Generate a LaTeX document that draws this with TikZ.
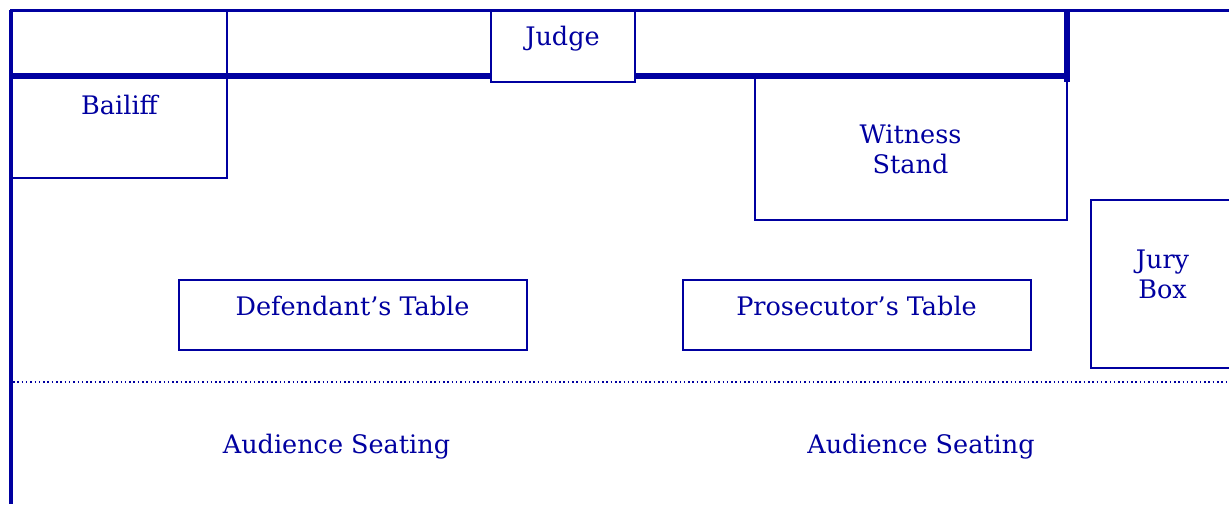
\documentclass[tikz,border=0pt]{standalone}
\usepackage{fontspec}
\setmainfont{DejaVu Serif}
\usepackage{xcolor}
\usetikzlibrary{positioning}
\definecolor{courtblue}{RGB}{0,0,160}

\begin{document}
\begin{tikzpicture}[
  x=0.5pt, y=-0.5pt,
  font=\fontsize{12.75}{15}\selectfont,
  wall/.style={
    draw=courtblue,
    line width=1.75pt
  },
  bench/.style={
    draw=courtblue,
    line width=3pt
  },
  furniture/.style={
    draw=courtblue,
    line width=1pt
  },
  bar/.style={
    draw=courtblue,
    line width=0.75pt,
    dash pattern=on 0.75pt off 1.4pt
  },
  lab/.style={
    text=courtblue,
    align=center,
    inner sep=0pt
  }
]
\useasboundingbox (0,0) rectangle (1229,504);

% Walls of the room
\draw[wall] (10,10.5) -- (1229,10.5);
\draw[wall, line width=2pt] (11,9.5) -- (11,504);

% Judge's bench
\draw[bench] (11,76) -- (1067,76);
\draw[bench, line width=2.75pt] (1067,9.5) -- (1067,82);
\draw[furniture, fill=white] (491,10.5) rectangle (635,82);

% Bailiff corner
\draw[furniture] (227,10) -- (227,178) -- (11,178);

% Witness stand
\draw[furniture] (755,79) -- (755,220) -- (1067,220) -- (1067,80);

% Tables
\draw[furniture] (179,280) rectangle (527,350);
\draw[furniture] (683,280) rectangle (1031,350);

% Jury box, open to the right
\draw[furniture] (1229,200) -- (1091,200) -- (1091,368) -- (1229,368);

% Bar between the well and the gallery
\draw[bar] (13,382) -- (1229,382);

% Labels
\node[lab, anchor=base] (judge)    at (562.5,45.5) {Judge};
\node[lab, anchor=base] (bailiff)  at (119.5,114)  {Bailiff};
\node[lab]              (witness)  at (910.5,149)  {Witness\\Stand};
\node[lab, anchor=base] (deftab)   at (352.5,315)  {Defendant’s Table};
\node[lab, anchor=base] (prostab)  at (856.5,315)  {Prosecutor’s Table};
\node[lab]              (jury)     at (1162.5,274) {Jury\\Box};
\node[lab, anchor=base] (audleft)  at (336.5,453)  {Audience Seating};
\node[lab, anchor=base] (audright) at (921,453)    {Audience Seating};

\end{tikzpicture}
\end{document}
